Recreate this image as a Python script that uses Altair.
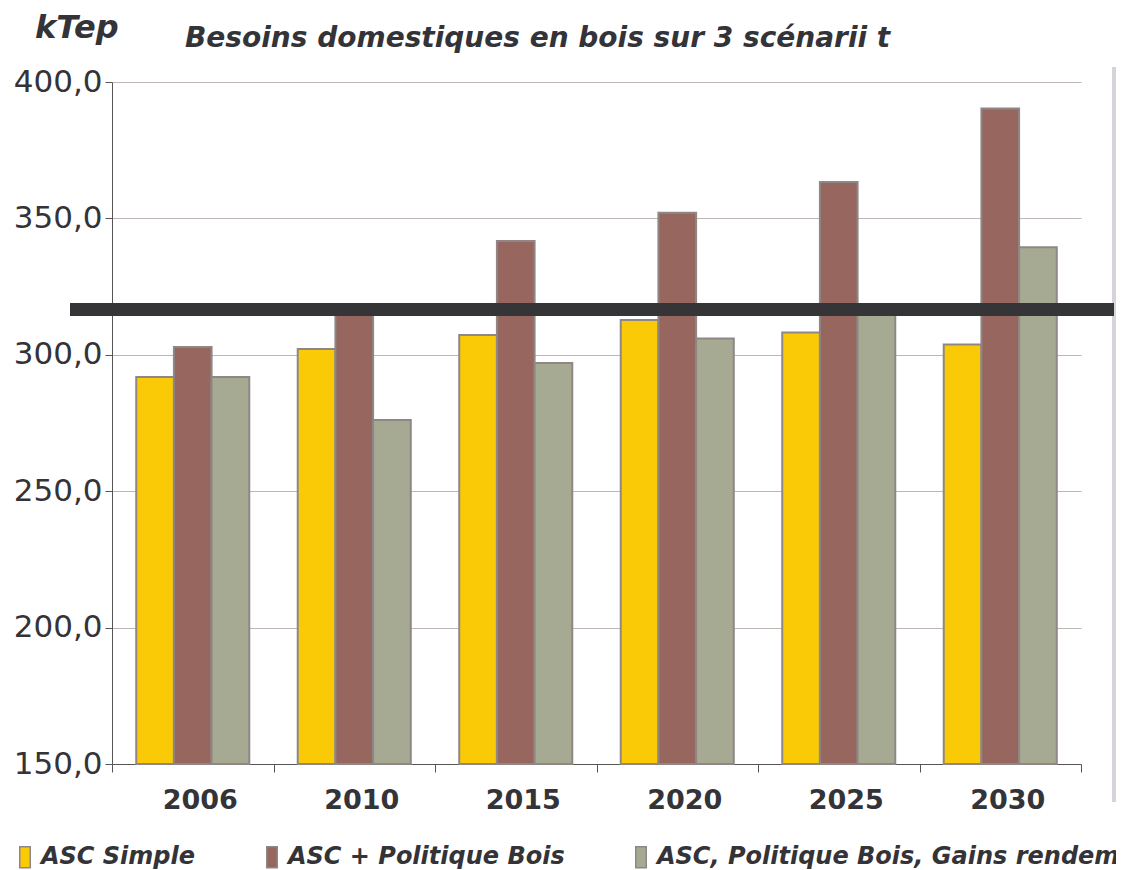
import altair as alt
import pandas as pd

years = ["2006", "2010", "2015", "2020", "2025", "2030"]
series = ["ASC Simple", "ASC + Politique Bois", "ASC, Politique Bois, Gains rendement"]
asc_simple = [291.9, 302.1, 307.3, 312.8, 308.2, 303.8]
asc_politique = [302.9, 315.0, 341.7, 352.1, 363.3, 390.3]
asc_gains = [291.9, 276.1, 297.0, 306.0, 315.5, 339.4]
colors = ["#fbca07", "#97665e", "#a7aa93"]
y_ticks = [150, 200, 250, 300, 350, 400]
threshold = [316.6]
unit_label = "kTep"
title_text = "Besoins domestiques en bois sur 3 scénarii t"

rows = []
for s, vals in zip(series, [asc_simple, asc_politique, asc_gains]):
    for yr, v in zip(years, vals):
        rows.append({"year": yr, "series": s, "value": v})
df = pd.DataFrame(rows)

FONT = "DejaVu Sans"
TXT = "#333338"
W, H = 969, 682

side = alt.Chart(pd.DataFrame({"a": [1]})).mark_rect(color="#d8d3db").encode(
    x=alt.value(1000), x2=alt.value(1030), y=alt.value(-15), y2=alt.value(720)
)

bars = alt.Chart(df).mark_bar(stroke="#8e8786", strokeWidth=2).encode(
    x=alt.X(
        "year:N", sort=years,
        scale=alt.Scale(paddingInner=0, paddingOuter=0),
        axis=alt.Axis(
            title=None, labelAngle=0, labelFont=FONT, labelFontSize=27,
            labelFontWeight="bold", labelColor=TXT, tickBand="extent",
            ticks=True, tickSize=8, tickColor="#555555", domainColor="#555555",
            labelPadding=15, labelOffset=7, grid=False,
        ),
    ),
    xOffset=alt.XOffset(
        "series:N", sort=series,
        scale=alt.Scale(paddingInner=0, paddingOuter=0.643),
    ),
    y=alt.Y(
        "value:Q",
        scale=alt.Scale(domain=[150, 400], zero=False, nice=False),
        axis=alt.Axis(
            title=None, values=y_ticks,
            labelExpr="replace(format(datum.value, '.1f'), '.', ',')",
            labelFont=FONT, labelFontSize=31, labelColor=TXT,
            tickSize=7, tickColor="#555555", domainColor="#555555",
            labelPadding=3, grid=True, gridColor="#bfb6b3", gridWidth=1,
        ),
    ),
    y2=alt.datum(150),
    color=alt.Color(
        "series:N", sort=series,
        scale=alt.Scale(domain=series, range=colors),
        legend=alt.Legend(
            title=None, orient="none", legendX=-99, legendY=763,
            direction="horizontal", symbolType="M-0.5,-1H0.5V1H-0.5Z",
            symbolSize=441, symbolStrokeColor="#8e8786", symbolStrokeWidth=1.5,
            symbolOpacity=1, labelFont=FONT, labelFontSize=24,
            labelFontWeight="bold", labelFontStyle="italic", labelColor=TXT,
            labelOffset=4, columnPadding=64, labelLimit=1000, padding=0,
        ),
    ),
)

rule = alt.Chart(pd.DataFrame({"value": threshold})).mark_rule(
    color="#353437", strokeWidth=13
).encode(y="value:Q", x=alt.value(-42), x2=alt.value(1002))

unit = alt.Chart(pd.DataFrame({"t": [unit_label]})).mark_text(
    align="left", baseline="alphabetic", font=FONT, fontSize=32,
    fontWeight="bold", fontStyle="italic", color=TXT,
).encode(x=alt.value(-77), y=alt.value(-44), text="t:N")

title = alt.Chart(pd.DataFrame({"t": [title_text]})).mark_text(
    align="left", baseline="alphabetic", font=FONT, fontSize=28,
    fontWeight="bold", fontStyle="italic", color=TXT,
).encode(x=alt.value(73), y=alt.value(-35), text="t:N")

chart = alt.layer(side, bars, rule, unit, title).properties(
    width=W, height=H,
    autosize=alt.AutoSizeParams(type="none"),
    padding={"left": 104, "top": 74, "right": 35, "bottom": 110},
    background="white",
).configure_view(stroke=None)

chart.save("out.html", embed_options={"renderer": "svg", "actions": False})
